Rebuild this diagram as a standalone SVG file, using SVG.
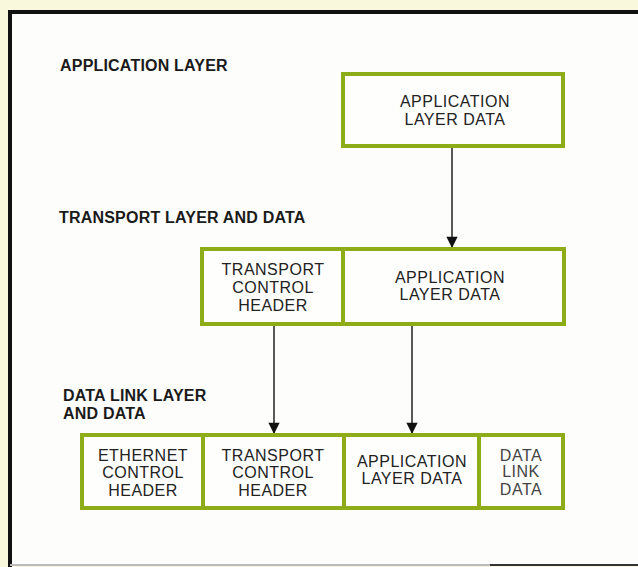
<svg xmlns="http://www.w3.org/2000/svg" width="638" height="567" viewBox="0 0 638 567">
<style>
.box{fill:#fefefc;stroke:#8eab18;stroke-width:4}
.div{stroke:#8eab18;stroke-width:4}
.lbl{font-family:"Liberation Sans",Arial,sans-serif;font-weight:bold;font-size:16px;letter-spacing:0.2px;fill:#1a1a1a}
.t{font-family:"Liberation Sans",Arial,sans-serif;font-size:16px;letter-spacing:0.5px;fill:#222;text-anchor:middle}
.tg{fill:#444}
.conn{stroke:#222;stroke-width:1.5;fill:none}
</style>
<defs>
<marker id="ah" viewBox="0 0 10 16" refX="10" refY="8" markerWidth="12" markerHeight="18" markerUnits="userSpaceOnUse" orient="auto">
<path d="M0,3 L10,8 L0,13 Z" fill="#111"/>
</marker>
</defs>
<rect x="0" y="0" width="638" height="567" fill="#faf8dc"/>
<rect x="10" y="12" width="630" height="553" fill="#fdfdfb"/>
<line x1="10" y1="12" x2="638" y2="12" stroke="#111" stroke-width="4"/>
<line x1="10" y1="10" x2="10" y2="567" stroke="#111" stroke-width="4"/>
<line x1="10" y1="565" x2="638" y2="565" stroke="#bbb" stroke-width="2"/>
<line x1="490" y1="565" x2="638" y2="565" stroke="#333" stroke-width="2"/>

<g id="labels">
<text class="lbl" x="60" y="71">APPLICATION LAYER</text>
<text class="lbl" x="59" y="223">TRANSPORT LAYER AND DATA</text>
<text class="lbl" x="63" y="401">DATA LINK LAYER</text>
<text class="lbl" x="63" y="419">AND DATA</text>
</g>

<g id="connectors">
<line class="conn" x1="452" y1="147" x2="452" y2="248" marker-end="url(#ah)"/>
<line class="conn" x1="274" y1="326" x2="274" y2="434" marker-end="url(#ah)"/>
<line class="conn" x1="412" y1="326" x2="412" y2="434" marker-end="url(#ah)"/>
</g>

<g id="app-layer">
<rect class="box" x="343" y="74" width="220" height="72"/>
<text class="t" x="455" y="107">APPLICATION</text>
<text class="t" x="455" y="125">LAYER DATA</text>
</g>

<g id="transport-layer">
<rect class="box" x="202" y="249" width="362" height="75"/>
<line class="div" x1="343" y1="249" x2="343" y2="324"/>
<g id="transport-header">
<text class="t" x="273" y="275">TRANSPORT</text>
<text class="t" x="273" y="293">CONTROL</text>
<text class="t" x="273" y="311">HEADER</text>
</g>
<g id="transport-app-data">
<text class="t" x="450" y="283">APPLICATION</text>
<text class="t" x="450" y="300">LAYER DATA</text>
</g>
</g>

<g id="datalink-layer">
<rect class="box" x="82" y="435" width="481" height="73"/>
<line class="div" x1="203" y1="435" x2="203" y2="508"/>
<line class="div" x1="344" y1="435" x2="344" y2="508"/>
<line class="div" x1="479" y1="435" x2="479" y2="508"/>
<g id="ethernet-header">
<text class="t" x="143" y="461">ETHERNET</text>
<text class="t" x="143" y="478">CONTROL</text>
<text class="t" x="143" y="496">HEADER</text>
</g>
<g id="dl-transport-header">
<text class="t" x="273" y="461">TRANSPORT</text>
<text class="t" x="273" y="478">CONTROL</text>
<text class="t" x="273" y="496">HEADER</text>
</g>
<g id="dl-app-data">
<text class="t" x="412" y="467">APPLICATION</text>
<text class="t" x="412" y="484">LAYER DATA</text>
</g>
<g id="dl-data">
<text class="t tg" x="521" y="461">DATA</text>
<text class="t tg" x="521" y="477">LINK</text>
<text class="t tg" x="521" y="495">DATA</text>
</g>
</g>
</svg>
